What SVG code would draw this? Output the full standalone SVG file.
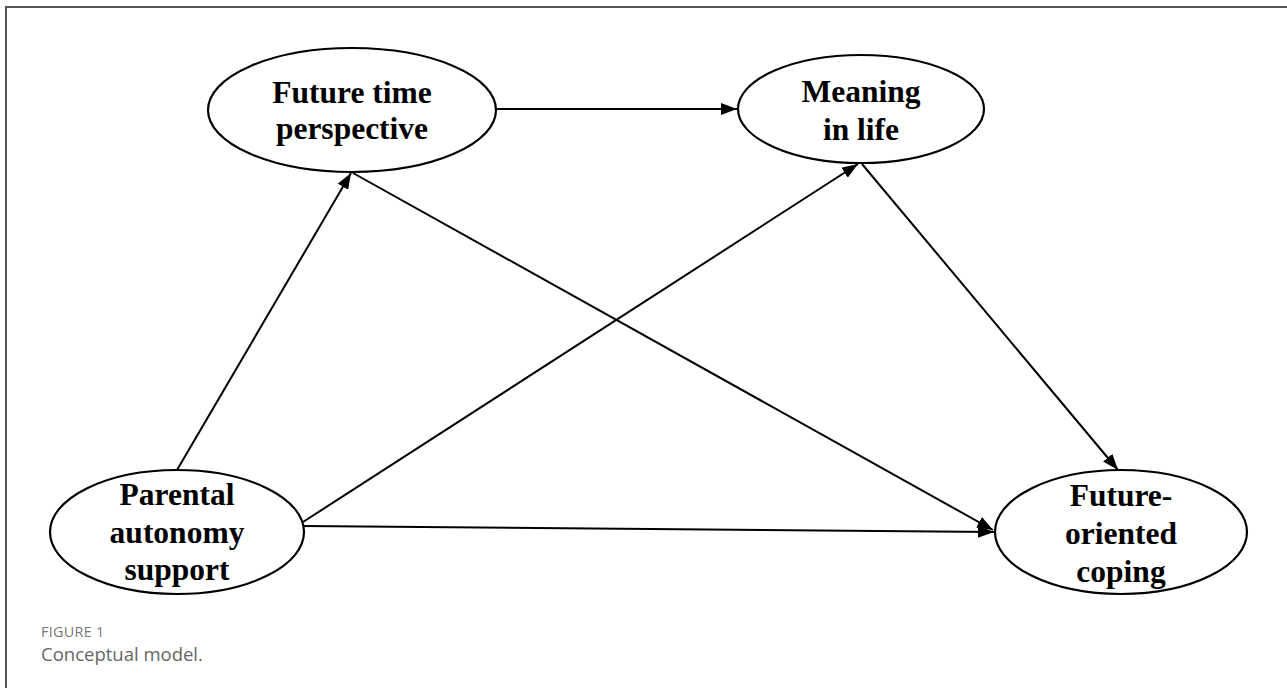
<svg xmlns="http://www.w3.org/2000/svg" width="1287" height="688" viewBox="0 0 1287 688">
<style>
.node ellipse{fill:#fff;stroke:#000;stroke-width:2.2}
.node text{font-family:"Liberation Serif","Times New Roman",serif;font-weight:bold;font-size:31.5px;fill:#000;text-anchor:middle}
.edge{stroke:#000;stroke-width:2;fill:none;marker-end:url(#ah)}
.cap1{font-family:"Open Sans","Noto Sans",sans-serif;font-size:14.4px;fill:#777;letter-spacing:0.3px}
.cap2{font-family:"Open Sans","Noto Sans",sans-serif;font-size:18.5px;fill:#666}
</style>
<defs>
<marker id="ah" markerUnits="userSpaceOnUse" markerWidth="17" markerHeight="12" refX="16" refY="6" orient="auto">
<path d="M0,0 L16,6 L0,12 z" fill="#000"/>
</marker>
</defs>
<rect width="1287" height="688" fill="#fff"/>
<path d="M6,688 V7 H1287" fill="none" stroke="#555" stroke-width="2"/>
<g id="connectors">
<line class="edge" x1="496" y1="109" x2="737" y2="109"/>
<line class="edge" x1="177" y1="470" x2="351" y2="173"/>
<line class="edge" x1="353" y1="173" x2="993" y2="530"/>
<line class="edge" x1="303" y1="522" x2="858" y2="164"/>
<line class="edge" x1="862" y1="164" x2="1118" y2="470"/>
<line class="edge" x1="303" y1="526" x2="994" y2="532"/>
</g>
<g id="ftp" class="node">
<ellipse cx="352" cy="110" rx="144" ry="62"/>
<text x="352" y="103">Future time</text>
<text x="352" y="139">perspective</text>
</g>
<g id="mil" class="node">
<ellipse cx="861" cy="109" rx="123" ry="54"/>
<text x="861" y="102">Meaning</text>
<text x="861" y="140">in life</text>
</g>
<g id="pas" class="node">
<ellipse cx="177" cy="532" rx="127" ry="62"/>
<text x="177" y="505">Parental</text>
<text x="177" y="543">autonomy</text>
<text x="177" y="580">support</text>
</g>
<g id="foc" class="node">
<ellipse cx="1121" cy="532" rx="126" ry="62"/>
<text x="1121" y="506">Future-</text>
<text x="1121" y="544">oriented</text>
<text x="1121" y="582">coping</text>
</g>
<text class="cap1" x="41" y="637">FIGURE 1</text>
<text class="cap2" x="41" y="661">Conceptual model.</text>
</svg>
